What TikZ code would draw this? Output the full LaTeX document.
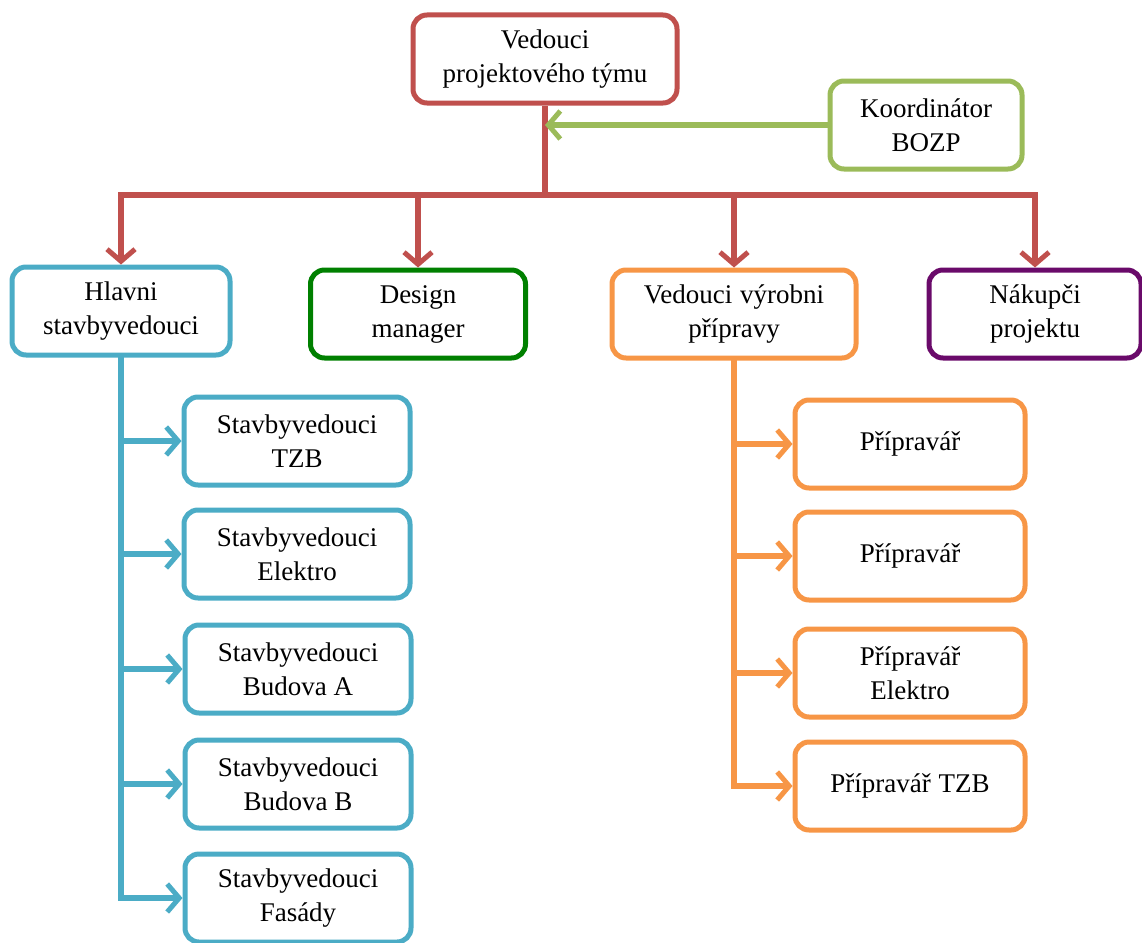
\documentclass[tikz,border=0pt]{standalone}
\usepackage{fontspec}
\setmainfont{Liberation Serif}
\usetikzlibrary{arrows.meta}

\definecolor{leadred}{HTML}{C0504D}
\definecolor{bozpgreen}{HTML}{9BBB59}
\definecolor{sitecyan}{HTML}{4BACC6}
\definecolor{designgreen}{HTML}{008000}
\definecolor{preporange}{HTML}{F79646}
\definecolor{buypurple}{HTML}{6A0A6A}

\begin{document}
\begin{tikzpicture}[x=1pt, y=-1pt,
    box/.style={draw=#1, fill=white, line width=5pt, rounded corners=14pt,
      minimum width=226pt, minimum height=88pt, align=center,
      font=\fontsize{27}{34}\selectfont},
    link/.style={draw=#1, line width=5.5pt, line cap=round,
      -{Straight Barb[length=12pt, width=28pt, line width=5pt]}}]
  \useasboundingbox (0,0) rectangle (1142,942);

  % vedeni
  \node[box=leadred, minimum width=264pt] (lead) at (545,59) {Vedouci\\projektového týmu};
  \node[box=bozpgreen, minimum width=192pt] (bozp) at (926,125) {Koordinátor\\BOZP};

  % druha uroven
  \node[box=sitecyan, minimum width=218pt] (hlavni) at (121,311) {Hlavni\\stavbyvedouci};
  \node[box=designgreen, minimum width=215pt] (design) at (418,314) {Design\\manager};
  \node[box=preporange, minimum width=244pt] (vyroba) at (734,314) {Vedouci\hspace{8pt}výrobni\\přípravy};
  \node[box=buypurple, minimum width=212pt] (nakup) at (1035,314) {Nákupči\\projektu};

  % stavbyvedouci
  \node[box=sitecyan] (tzb) at (297,441) {Stavbyvedouci\\TZB};
  \node[box=sitecyan] (elektro) at (297,554) {Stavbyvedouci\\Elektro};
  \node[box=sitecyan] (budA) at (298,669) {Stavbyvedouci\\Budova A};
  \node[box=sitecyan] (budB) at (298,784) {Stavbyvedouci\\Budova B};
  \node[box=sitecyan] (fasady) at (298,898) {Stavbyvedouci\\Fasády};

  % pripravari
  \node[box=preporange, minimum width=230pt] (prip1) at (910,444) {Přípravář};
  \node[box=preporange, minimum width=230pt] (prip2) at (910,556) {Přípravář};
  \node[box=preporange, minimum width=230pt] (prip3) at (910,673) {Přípravář\\Elektro};
  \node[box=preporange, minimum width=230pt] (prip4) at (910,786) {Přípravář\hspace{8pt}TZB};

  % spojnice
  \coordinate (bus) at (545,195);
  \draw[leadred, line width=5.5pt] (lead.south) -- (bus);
  \draw[link=bozpgreen] (bozp.west) -- (lead.south |- bozp.west);
  \foreach \n in {hlavni,design,vyroba,nakup}
    \draw[link=leadred] (bus) -| (\n.north);
  \foreach \n in {tzb,elektro,budA,budB,fasady}
    \draw[link=sitecyan] (hlavni.south) |- (\n.west);
  \foreach \n in {prip1,prip2,prip3,prip4}
    \draw[link=preporange] (vyroba.south) |- (\n.west);
\end{tikzpicture}
\end{document}
